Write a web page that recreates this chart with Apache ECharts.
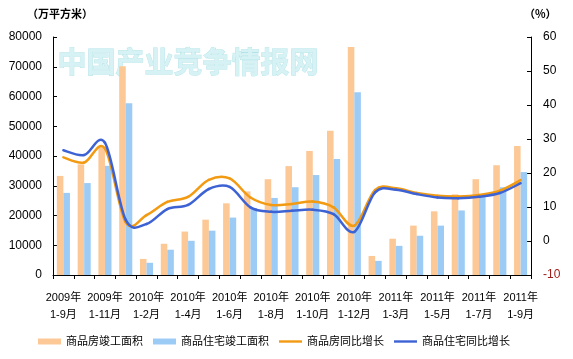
<!DOCTYPE html>
<html>
<head>
<meta charset="utf-8">
<script src="https://cdn.jsdelivr.net/npm/echarts@6/dist/echarts.min.js"></script>
<style>
html,body{margin:0;padding:0;background:#fff;}
#c{width:573px;height:359px;}
</style>
</head>
<body>
<div id="c"></div>
<script>
var categories = ['2009年1-9月','2009年1-10月','2009年1-11月','2009年1-12月',
  '2010年1-2月','2010年1-3月','2010年1-4月','2010年1-5月','2010年1-6月','2010年1-7月',
  '2010年1-8月','2010年1-9月','2010年1-10月','2010年1-11月','2010年1-12月',
  '2011年1-2月','2011年1-3月','2011年1-4月','2011年1-5月','2011年1-6月','2011年1-7月',
  '2011年1-8月','2011年1-9月'];
var commercialArea = [33300, 37200, 43000, 70200, 5400, 10500, 14600, 18600, 24100, 28100,
  32200, 36600, 41700, 48500, 76600, 6400, 12200, 16600, 21400, 27100, 32200, 36900, 43400];
var residentialArea = [27600, 30900, 36700, 57700, 4100, 8500, 11500, 14900, 19300, 22500,
  25900, 29500, 33600, 39000, 61400, 4750, 9800, 13200, 16600, 21700, 26200, 29500, 34600];
var commercialGrowth = [24.6, 23.1, 27.2, 5.5, 7.6, 11.5, 13.0, 18.0, 18.4, 12.8,
  10.6, 10.9, 11.6, 9.9, 4.5, 15.0, 15.5, 14.1, 13.3, 13.1, 13.5, 14.8, 17.9];
var residentialGrowth = [26.7, 25.3, 28.9, 6.2, 5.0, 9.4, 10.6, 15.3, 15.9, 9.9,
  8.6, 8.9, 9.2, 7.9, 2.7, 14.3, 15.1, 13.8, 12.8, 12.6, 13.0, 14.1, 17.0];
var seriesNames = ['商品房竣工面积','商品住宅竣工面积','商品房同比增长','商品住宅同比增长'];
var leftUnit = '（万平方米）';
var rightUnit = '（%）';
var watermark = '中国产业竞争情报网';

var FONT = "'Liberation Sans','Noto Sans CJK SC',sans-serif";

// Excel-like smoothed line drawn segment by segment through the axis scales
function smoothLine(name, values, color) {
  var n = values.length;
  return {
    name: name, type: 'custom', yAxisIndex: 1, z: 5,
    data: values.map(function (v, i) { return [i, v]; }),
    encode: {x: 0, y: 1},
    itemStyle: {color: color},
    renderItem: function (params, api) {
      var i = params.dataIndex;
      if (i >= n - 1) return null;
      var p0 = api.coord([Math.max(i - 1, 0), values[Math.max(i - 1, 0)]]);
      var p1 = api.coord([i, values[i]]);
      var p2 = api.coord([i + 1, values[i + 1]]);
      var p3 = api.coord([Math.min(i + 2, n - 1), values[Math.min(i + 2, n - 1)]]);
      var t = 6;
      return {
        type: 'bezierCurve',
        shape: {
          x1: p1[0], y1: p1[1], x2: p2[0], y2: p2[1],
          cpx1: p1[0] + (p2[0] - p0[0]) / t, cpy1: p1[1] + (p2[1] - p0[1]) / t,
          cpx2: p2[0] - (p3[0] - p1[0]) / t, cpy2: p2[1] - (p3[1] - p1[1]) / t
        },
        style: {stroke: color, fill: null, lineWidth: 2.5, lineCap: 'round'}
      };
    }
  };
}

var lineIcon = 'path://M0,0H24V2.5H0Z';
var chart = echarts.init(document.getElementById('c'), null, {renderer:'canvas'});
chart.setOption({
  animation: false,
  backgroundColor: '#fff',
  textStyle: {fontFamily: FONT},
  grid: {left: 53, right: 42, top: 37, bottom: 84},
  graphic: [
    {type:'text', left: 57, top: 47, z: -10, silent: true,
     style:{text: watermark, fill:'#d6f2f4', stroke:'#b3e3e8', lineWidth: 0.8,
       font:"bold 29px 'Noto Sans CJK SC'"}},
    {type:'text', left: 27, top: 8,
     style:{text: leftUnit, fill:'#000', font:"bold 11px 'Noto Sans CJK SC'"}},
    {type:'text', left: 524, top: 8,
     style:{text: rightUnit, fill:'#000', font:"bold 11px 'Noto Sans CJK SC'"}}
  ],
  legend: {
    left: 33, top: 331, itemGap: 10, itemWidth: 23, itemHeight: 6,
    textStyle: {fontSize: 11, color: '#000', fontFamily: FONT},
    data: [
      {name: seriesNames[0], icon: 'rect'},
      {name: seriesNames[1], icon: 'rect'},
      {name: seriesNames[2], icon: lineIcon},
      {name: seriesNames[3], icon: lineIcon}
    ]
  },
  xAxis: {
    type: 'category', data: categories, boundaryGap: true,
    axisLine: {lineStyle: {color: '#000', width: 1}},
    axisTick: {show: true, interval: 0, length: 4, lineStyle: {color: '#000'}},
    axisLabel: {
      interval: 1, color: '#000', fontSize: 11, margin: 14, lineHeight: 17,
      fontFamily: FONT,
      formatter: function (v) { var i = v.indexOf('年'); return v.slice(0, i + 1) + '\n' + v.slice(i + 1); }
    },
    splitLine: {show: false}
  },
  yAxis: [
    {type: 'value', min: 0, max: 80000, interval: 10000,
     axisLine: {show: true, lineStyle: {color: '#000'}},
     axisTick: {show: true, inside: true, length: 4, lineStyle: {color: '#000'}},
     axisLabel: {color: '#000', fontSize: 12, margin: 11, fontFamily: FONT,
       formatter: function (v) { return String(v); }},
     splitLine: {show: false}},
    {type: 'value', min: -10, max: 60, interval: 10, position: 'right',
     axisLine: {show: true, lineStyle: {color: '#000'}},
     axisTick: {show: true, inside: true, length: 4, lineStyle: {color: '#000'}},
     axisLabel: {fontSize: 12, margin: 12, fontFamily: FONT,
       formatter: function (v) { return String(v); },
       color: function (v) { return Number(v) < 0 ? '#a0201a' : '#000'; }},
     splitLine: {show: false}}
  ],
  series: [
    {name: seriesNames[0], type: 'bar', data: commercialArea, yAxisIndex: 0,
     barGap: '0%', barCategoryGap: '37%', itemStyle: {color: '#fcc896'}},
    {name: seriesNames[1], type: 'bar', data: residentialArea, yAxisIndex: 0,
     barGap: '0%', barCategoryGap: '37%', itemStyle: {color: '#9ccbf6'}},
    smoothLine(seriesNames[2], commercialGrowth, '#f29a12'),
    smoothLine(seriesNames[3], residentialGrowth, '#3d62d4')
  ]
});
</script>
</body>
</html>
